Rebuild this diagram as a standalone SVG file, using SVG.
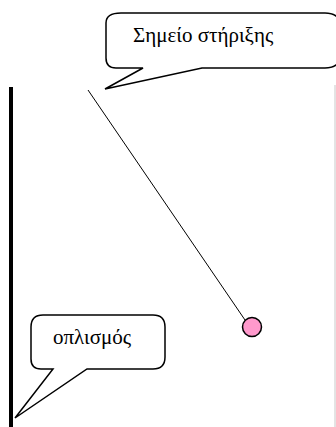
<svg xmlns="http://www.w3.org/2000/svg" width="336" height="427" viewBox="0 0 336 427">
  <style>
    .callout { fill: #ffffff; stroke: #000000; stroke-width: 1.5; stroke-linejoin: miter; }
    .label { font-family: "Liberation Serif", "Times New Roman", "DejaVu Serif", serif; font-size: 21px; fill: #000000; }
  </style>
  <rect x="0" y="0" width="336" height="427" fill="#ffffff"/>
  <!-- right page edge -->
  <line x1="335" y1="85" x2="335" y2="427" stroke="#c8c8c8" stroke-width="1"/>
  <!-- reinforcement bar -->
  <g id="rod">
    <line x1="11" y1="87" x2="11" y2="427" stroke="#000000" stroke-width="4"/>
  </g>
  <g id="connectors">
    <line x1="88" y1="90" x2="245" y2="320" stroke="#000000" stroke-width="1"/>
  </g>
  <g id="ball">
    <circle cx="252" cy="327" r="9.5" fill="#ff99cc" stroke="#000000" stroke-width="1.5"/>
  </g>
  <g id="callout-support">
    <path class="callout" d="M121,13 H325 Q345,13 345,40.5 Q345,68 325,68 H202 L105,89 L143,68 H116 Q106,68 106,58 V23 Q106,13 121,13 Z"/>
    <text class="label" x="133" y="42">Σημείο στήριξης</text>
  </g>
  <g id="callout-reinforcement">
    <path class="callout" d="M43,315 H153 Q165,315 165,327 V357 Q165,369 153,369 H87 L15,418 L53,369 H41 Q31,369 31,359 V327 Q31,315 43,315 Z"/>
    <text class="label" x="53" y="344">οπλισμός</text>
  </g>
</svg>
